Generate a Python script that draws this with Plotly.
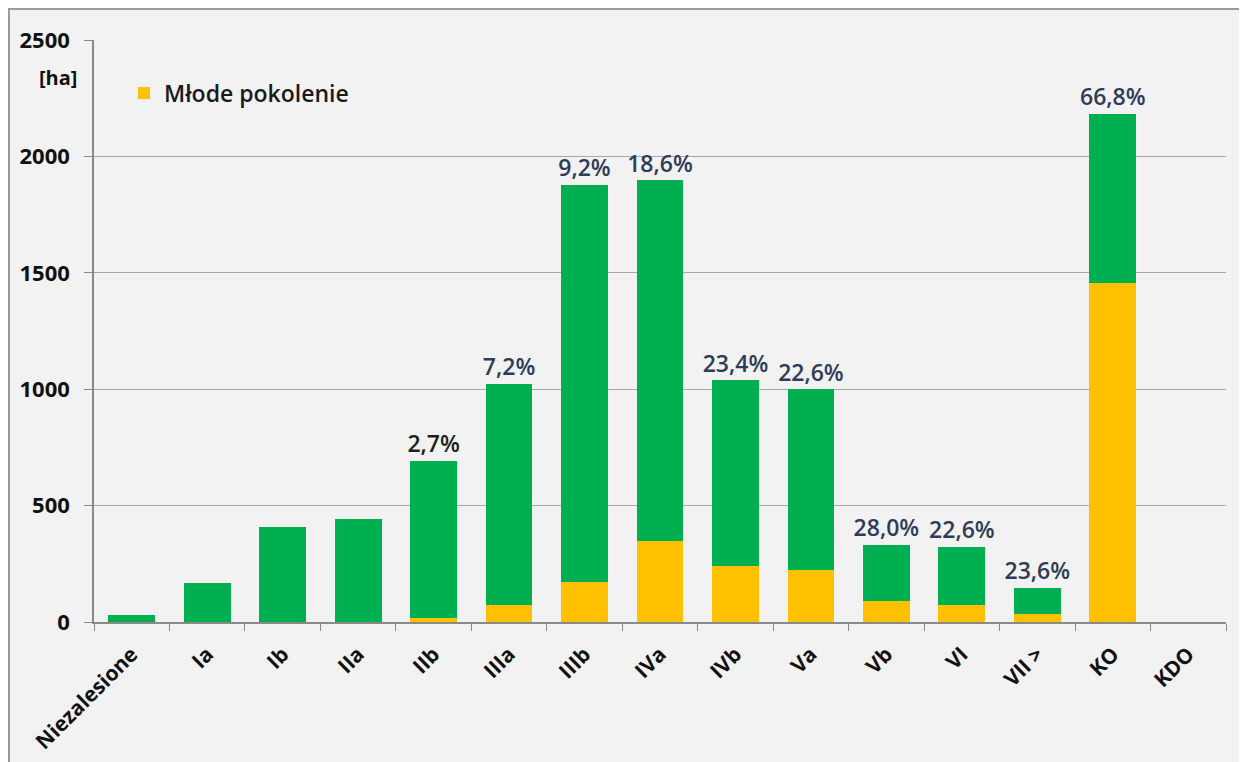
import plotly.graph_objects as go

categories = ["Niezalesione", "Ia", "Ib", "IIa", "IIb", "IIIa", "IIIb", "IVa",
              "IVb", "Va", "Vb", "VI", "VII >", "KO", "KDO"]
total_ha = [29, 168, 408, 442, 692, 1024, 1878, 1898, 1038, 1000, 332, 322, 146, 2183, 0]
young_ha = [0, 0, 0, 0, 19, 73, 172, 350, 242, 222, 92, 72, 34, 1457, 0]
pct_labels = ["", "", "", "", "2,7%", "7,2%", "9,2%", "18,6%", "23,4%", "22,6%",
              "28,0%", "22,6%", "23,6%", "66,8%", ""]
pct_colors = ["#2f3c58"] * 4 + ["#1e1e1e"] + ["#2f3c58"] * 10

other_ha = [t - y for t, y in zip(total_ha, young_ha)]

GREEN = "#00b050"
YELLOW = "#ffc000"
FONT = "Open Sans"

fig = go.Figure()
fig.add_trace(go.Bar(x=categories, y=young_ha, name="Młode pokolenie",
                     marker=dict(color=YELLOW, line=dict(width=0)), showlegend=True))
fig.add_trace(go.Bar(x=categories, y=other_ha, name="Pozostałe",
                     marker=dict(color=GREEN, line=dict(width=0)), showlegend=False))
fig.add_trace(go.Scatter(x=categories, y=total_ha, mode="markers+text", text=pct_labels,
                         textposition="top center",
                         marker=dict(size=3, color="rgba(0,0,0,0)"),
                         textfont=dict(family=FONT, size=23, color=pct_colors, weight=600),
                         showlegend=False, hoverinfo="skip", cliponaxis=False))

# the page body adds an 8 px offset, so the figure is sized to fit the window
W, H = 1239, 754
ml, mr, mt, mb = 86, 21, 32, 140
pw, ph = W - ml - mr, H - mt - mb
OFF = 8

def px_x(p):
    return (p - OFF - ml) / pw

def px_y(p):
    return (H - mb - (p - OFF)) / ph

fig.update_layout(
    width=W, height=H,
    margin=dict(l=ml, r=mr, t=mt, b=mb, pad=0, autoexpand=False),
    barmode="stack", bargap=0.38,
    paper_bgcolor="#f2f2f2", plot_bgcolor="#f2f2f2",
    font=dict(family=FONT, color="#111111"),
    showlegend=True,
    legend=dict(x=px_x(124), y=px_y(93), xanchor="left", yanchor="middle",
                bgcolor="rgba(0,0,0,0)", itemwidth=30,
                font=dict(family=FONT, size=23, color="#1a1a1a", weight=600)),
    xaxis=dict(type="category", range=[-0.5, len(categories) - 0.5],
               tickangle=-45, tickson="boundaries",
               ticks="outside", ticklen=7, tickcolor="#8a8a8a",
               showline=True, linecolor="#8a8a8a", linewidth=1.5,
               showgrid=False, automargin=False, ticklabelstandoff=10,
               tickfont=dict(family=FONT, size=21, color="#111111", weight="bold")),
    yaxis=dict(range=[0, 2500], tickvals=[0, 500, 1000, 1500, 2000, 2500],
               ticks="outside", ticklen=8, tickcolor="#8a8a8a",
               showline=True, linecolor="#8a8a8a", linewidth=1.5,
               showgrid=True, gridcolor="#a6a6a6", gridwidth=1.2,
               zeroline=False, automargin=False, ticklabelstandoff=10,
               tickfont=dict(family=FONT, size=22, color="#111111", weight="bold")),
    annotations=[dict(text="[ha]", x=px_x(58), y=px_y(77), xref="paper", yref="paper",
                      showarrow=False, xanchor="center", yanchor="middle",
                      font=dict(family=FONT, size=20, color="#111111", weight="bold"))],
    shapes=[dict(type="rect", xref="paper", yref="paper",
                 x0=px_x(9), x1=px_x(1260), y0=px_y(790), y1=px_y(9),
                 line=dict(color="#9a9a9a", width=2), fillcolor="rgba(0,0,0,0)",
                 layer="below")],
)

fig.write_html("out.html")
